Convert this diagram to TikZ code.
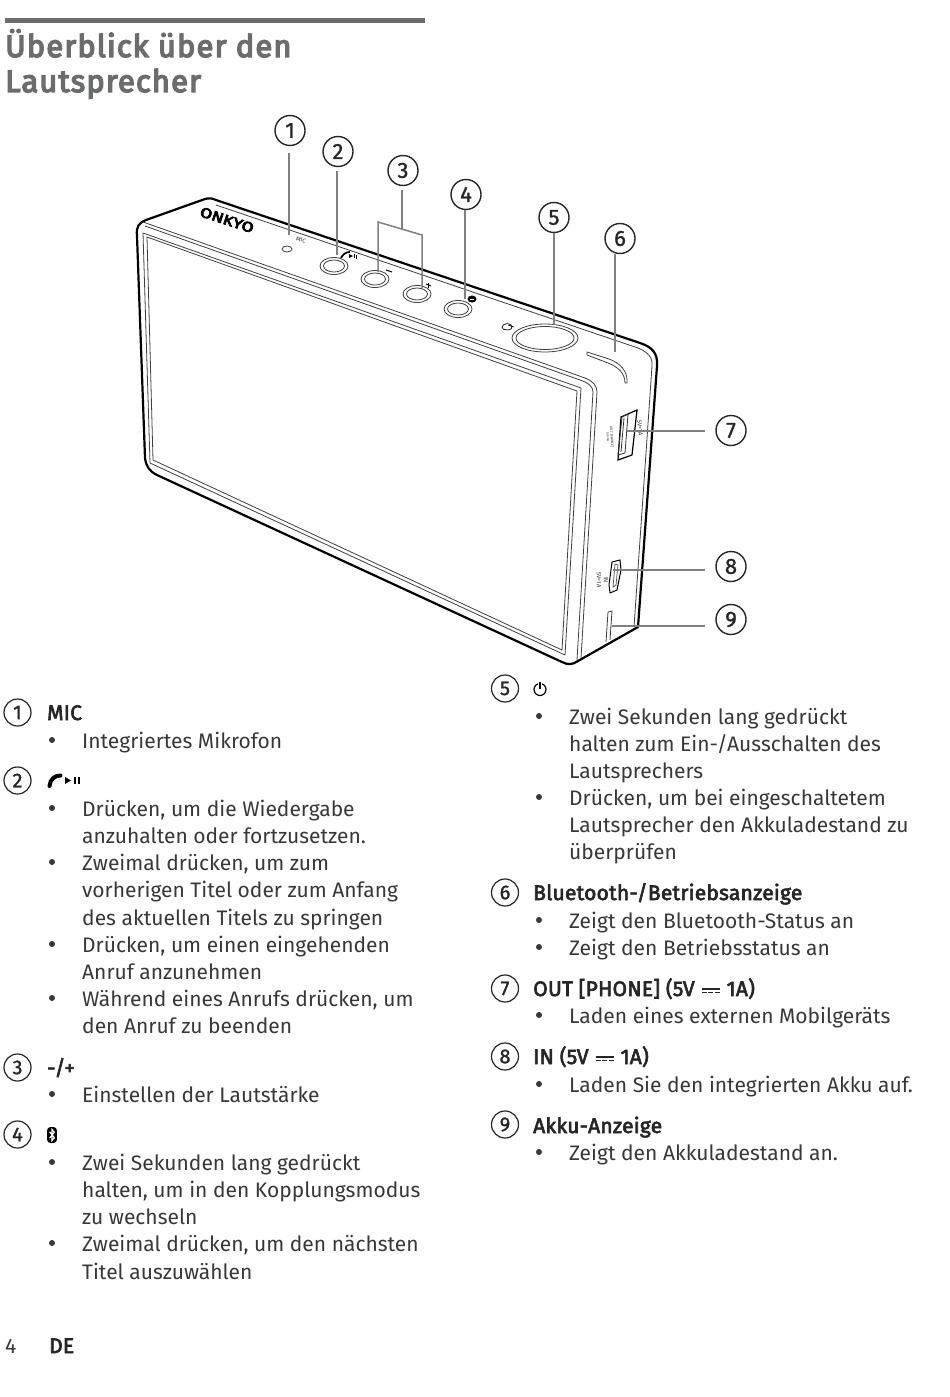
\documentclass[tikz,border=0pt]{standalone}
\usepackage{fontspec}
\setmainfont{Fira Sans}
\newfontfamily\hdrf[FakeBold=3,LetterSpace=1]{Fira Sans}
\newfontfamily\titlef[FakeBold=4.5,LetterSpace=3.5]{Fira Sans}
\newfontfamily\numf[FakeBold=1.2]{Fira Sans}
\newfontfamily\logof[FakeBold=5]{Fira Sans}
\usetikzlibrary{shapes.geometric}
\definecolor{bodyc}{HTML}{383838}
\definecolor{headc}{HTML}{6B6C6E}
\definecolor{leadc}{HTML}{808080}
\newcounter{tc}
\newcommand\bodysize{\fontsize{21}{27}\selectfont}
\newcommand\dcs{\kern7pt\raisebox{6.5pt}{\rlap{\rule{18pt}{1.1pt}}}\raisebox{3pt}{\rule{5pt}{1.1pt}\kern1.5pt\rule{5pt}{1.1pt}\kern1.5pt\rule{5pt}{1.1pt}}\kern7pt}
\newcommand\tl[3]{\stepcounter{tc}\node[txt] (t\arabic{tc}) at (#1,#2) {#3};}
\newcommand\hl[3]{\stepcounter{tc}\node[hdr] (t\arabic{tc}) at (#1,#2) {#3};}
\newcommand\bl[2]{\stepcounter{tc}\node[bull] (t\arabic{tc}) at (#1,#2) {};}
\newcommand\pwr[3]{\draw[line width=#3] (#1,#2) circle (6);\draw[white,line width=4pt] (#1,#2-6.5) -- (#1,#2-3);\draw[line width=#3] (#1,#2-8) -- (#1,#2-1);}
\newcommand\btic[4]{\fill[black,rounded corners=#4] (#1-#3*0.62,#2-#3) rectangle (#1+#3*0.62,#2+#3);\draw[white,line width=#3*0.14pt] (#1-#3*0.3,#2-#3*0.4) -- (#1+#3*0.3,#2+#3*0.35) -- (#1,#2+#3*0.7) -- (#1,#2-#3*0.7) -- (#1+#3*0.3,#2-#3*0.35) -- (#1-#3*0.3,#2+#3*0.4);}
\tikzset{
  x=1pt,y=-1pt,
  txt/.style={anchor=base west,inner sep=0pt,text=bodyc,font=\bodysize},
  hdr/.style={anchor=base west,inner sep=0pt,text=black!85,font=\hdrf\bodysize},
  ttl/.style={anchor=base west,inner sep=0pt,text=headc,font=\titlef\fontsize{31}{31}\selectfont},
  bull/.style={circle,fill=bodyc,inner sep=0pt,minimum size=6pt},
  bignum/.style={circle,draw=black!85,line width=1.4pt,inner sep=0pt,minimum size=30pt,font=\numf\fontsize{22}{22}\selectfont,text=black!85},
  smallnum/.style={circle,draw=black!85,line width=1.2pt,inner sep=0pt,minimum size=27pt,font=\numf\fontsize{20}{20}\selectfont,text=black!85},
  lead/.style={draw=leadc,line width=1.5pt},
  edge/.style={draw=black,line width=2.2pt,line join=round},
  thin/.style={draw=black!75,line width=0.8pt,line join=round},
  btn/.style={draw=black!75,line width=0.8pt,fill=white},
  tiny/.style={inner sep=0pt,text=black!80},
}
\begin{document}
\begin{tikzpicture}
\path[use as bounding box,fill=white] (0,0) rectangle (950,1397);
% title
\fill[headc] (5,18) rectangle (425,23);
\node[ttl] (title1) at (5,57) {Überblick über den};
\node[ttl] (title2) at (5,92) {Lautsprecher};
% device
\draw[edge] (137,236) .. controls (136,226) and (139,223) .. (146,220) -- (205,199) .. controls (209,198) and (212,198) .. (216,200) -- (640,343) .. controls (652,347) and (658,353) .. (657,366) -- (638,627) -- (578,661) .. controls (572,665) and (568,665) .. (562,662) -- (157,475) .. controls (149,471) and (146,466) .. (145,458) -- cycle;
\draw[thin] (216,205) -- (638,348) .. controls (648,352) and (653,358) .. (652,366) -- (634,627);
\draw[thin] (143,222) -- (585,378) .. controls (593,381) and (597,386) .. (597,392) -- (581,658);
\draw[thin] (145,226) -- (580,380) .. controls (589,383) and (593,387) .. (593,392) -- (577,660);
\draw[thin] (143,233) -- (581,388) -- (565,655) -- (150,463) -- cycle;
\draw[thin] (147,237) -- (577,391) -- (562,650) -- (153,460) -- cycle;
% top controls
\node[tiny,rotate=-18,xscale=1.25,text=black,font=\logof\fontsize{14}{14}\selectfont] (logo) at (227,220) {ONKYO};
\node[tiny,rotate=-18,font=\fontsize{6}{6}\selectfont] (mictxt) at (301,240) {MIC};
\draw[btn] (287,249) ellipse (5 and 3);
\draw[btn] (334,266) ellipse (14 and 8.5);
\draw[btn] (334,266) ellipse (10.5 and 6);
\draw[btn] (375,279) ellipse (14 and 8.5);
\draw[btn] (375,279) ellipse (10.5 and 6);
\draw[btn] (417,294) ellipse (14 and 8.5);
\draw[btn] (417,294) ellipse (10.5 and 6);
\draw[btn] (458,309) ellipse (14 and 8.5);
\draw[btn] (458,309) ellipse (10.5 and 6);
\draw[btn] (545,338) ellipse (33 and 14);
\draw[btn] (545,338) ellipse (29 and 11.5);
\draw[black,line width=1.8pt] (341,258) .. controls (343,254) and (346,252) .. (350,252);
\fill[black] (349,254) -- (353,256) -- (349,258) -- cycle;
\fill[black] (354,254) rectangle (355,258);
\fill[black] (356,255) rectangle (357,259);
\draw[black,line width=1pt] (386,270) -- (392,272);
\draw[black,line width=1pt] (426,284) -- (431,286);
\draw[black,line width=1pt] (428,282.5) -- (428,287.5);
\fill[black] (472,299) ellipse (4.5 and 3.5);
\draw[white,line width=0.5pt] (470,299) -- (474,299);
\draw[black,line width=0.7pt] (502,327) .. controls (503,323) and (509,323) .. (511,325) .. controls (513,328) and (511,330) .. (507,330) .. controls (504,330) and (502,329) .. (502,327);
\draw[black,line width=0.7pt] (508,325) -- (514,327);
% LED slot
\draw[thin] (587,352) -- (609,359) .. controls (620,363) and (628,371) .. (627,383) -- (625,383) .. controls (625,373) and (618,367) .. (608,363) -- (587,355) -- cycle;
% side USB
\draw[black,line width=1.2pt] (621,417) -- (637,410) -- (632,455) -- (618,460) -- cycle;
\draw[black!80,line width=0.8pt] (622,417) -- (628,414) -- (625,453) -- (618,455) -- cycle;
\draw[black!80,line width=0.8pt] (624,418) -- (621,452);
\node[tiny,rotate=-86,font=\fontsize{6}{6}\selectfont] (sv1) at (640,428) {5V=1A};
\node[tiny,rotate=-86,font=\fontsize{3.5}{4}\selectfont,align=center] (outtxt) at (610,437) {OUT [PHONE]\\5V=1A};
% micro USB
\draw[black,line width=1pt] (612,562) -- (620,560) -- (621,570) -- (617,590) -- (610,593) -- (609,585) -- cycle;
\draw[black!70,line width=0.7pt] (615,564) -- (618,565) -- (616,585) -- (613,587) -- cycle;
\node[tiny,rotate=-90,font=\fontsize{6}{6}\selectfont] (intxt) at (606,580) {IN};
\node[tiny,rotate=-90,font=\fontsize{6}{6}\selectfont] (svtxt) at (599,580) {5V=1A};
% battery slot
\draw[thin] (608,612) -- (612,611) -- (610,640);
\draw[thin] (608,612) -- (606,642);
% callouts
\node[bignum] (c1) at (290,130.5) {1};
\node[bignum] (c2) at (338,151.5) {2};
\node[bignum] (c3) at (403,170.5) {3};
\node[bignum] (c4) at (466,194.5) {4};
\node[bignum] (c5) at (554,217.5) {5};
\node[bignum] (c6) at (620,238.5) {6};
\node[bignum] (c7) at (731,430.5) {7};
\node[bignum] (c8) at (731,566.5) {8};
\node[bignum] (c9) at (731,619.5) {9};
\coordinate (e1) at (289,235);
\coordinate (e2) at (337,255);
\coordinate (e3) at (402,229);
\coordinate (bl) at (378,222);
\coordinate (br) at (422,235);
\coordinate (bld) at (378,272);
\coordinate (brd) at (422,288);
\coordinate (e4) at (465,299);
\coordinate (e5) at (554,325);
\coordinate (e6) at (615,352);
\coordinate (e7) at (627,431);
\coordinate (e8) at (613,570);
\coordinate (e9) at (612,626);
\draw[lead,shorten <=7pt] (e1 |- c1.south) -- (e1);
\draw[lead,shorten <=4pt] (e2 |- c2.south) -- (e2);
\draw[lead,shorten <=4pt] (e3 |- c3.south) -- (e3);
\draw[lead,line join=miter] (bld) -- (bl) -- (br) -- (brd);
\draw[lead] (e4 |- c4.south) -- (e4);
\draw[lead] (e5 |- c5.south) -- (e5);
\draw[lead] (e6 |- c6.south) -- (e6);
\draw[lead,shorten <=10pt] (e7 -| c7.west) -- (e7);
\draw[lead,shorten <=10pt] (e8 -| c8.west) -- (e8);
\draw[lead,shorten <=10pt] (e9 -| c9.west) -- (e9);
% left column
\node[smallnum] (n1) at (17.5,712.5) {1};
\node[smallnum] (n2) at (17.5,780.5) {2};
\node[smallnum] (n3) at (17.5,1067.5) {3};
\node[smallnum] (n4) at (17.5,1134.5) {4};
\hl{47}{720}{MIC}
\bl{52}{740}\tl{82}{748}{Integriertes Mikrofon}
\draw[black,line width=4pt,line cap=round] (49.5,786) .. controls (50,779) and (55,775.5) .. (60.5,775.5);
\fill[black] (65,777) -- (71,780.5) -- (65,784) -- cycle;
\fill[black] (74,777) rectangle (76,784);
\fill[black] (78,777) rectangle (80,784);
\bl{52}{808}\tl{82}{816}{Drücken, um die Wiedergabe}
\tl{82}{843}{anzuhalten oder fortzusetzen.}
\bl{52}{862}\tl{82}{870}{Zweimal drücken, um zum}
\tl{82}{897}{vorherigen Titel oder zum Anfang}
\tl{82}{925}{des aktuellen Titels zu springen}
\bl{52}{944}\tl{82}{952}{Drücken, um einen eingehenden}
\tl{82}{979}{Anruf anzunehmen}
\bl{52}{998}\tl{82}{1006}{Während eines Anrufs drücken, um}
\tl{82}{1033}{den Anruf zu beenden}
\hl{47}{1075}{-/+}
\bl{52}{1094}\tl{82}{1102}{Einstellen der Lautstärke}
\btic{52}{1135}{8}{3.5}
\bl{52}{1162}\tl{82}{1170}{Zwei Sekunden lang gedrückt}
\tl{82}{1197}{halten, um in den Kopplungsmodus}
\tl{82}{1224}{zu wechseln}
\bl{52}{1243}\tl{82}{1251}{Zweimal drücken, um den nächsten}
\tl{82}{1279}{Titel auszuwählen}
% right column
\node[smallnum] (n5) at (505,688.5) {5};
\node[smallnum] (n6) at (505,892.5) {6};
\node[smallnum] (n7) at (505,988.5) {7};
\node[smallnum] (n8) at (505,1056.5) {8};
\node[smallnum] (n9) at (505,1124.5) {9};
\pwr{540}{689.5}{1.2pt}
\bl{539}{716}\tl{569}{724}{Zwei Sekunden lang gedrückt}
\tl{569}{751}{halten zum Ein-/Ausschalten des}
\tl{569}{778}{Lautsprechers}
\bl{539}{797}\tl{569}{805}{Drücken, um bei eingeschaltetem}
\tl{569}{832}{Lautsprecher den Akkuladestand zu}
\tl{569}{859}{überprüfen}
\hl{533}{900}{Bluetooth-/Betriebsanzeige}
\bl{539}{920}\tl{569}{928}{Zeigt den Bluetooth-Status an}
\bl{539}{947}\tl{569}{955}{Zeigt den Betriebsstatus an}
\hl{533}{996}{OUT [PHONE] (5V\dcs 1A)}
\bl{539}{1015}\tl{569}{1023}{Laden eines externen Mobilgeräts}
\hl{533}{1064}{IN (5V\dcs 1A)}
\bl{539}{1084}\tl{569}{1092}{Laden Sie den integrierten Akku auf.}
\hl{533}{1133}{Akku-Anzeige}
\bl{539}{1152}\tl{569}{1160}{Zeigt den Akkuladestand an.}
% footer
\tl{5}{1353}{4}
\hl{49}{1353}{DE}
\end{tikzpicture}
\end{document}
